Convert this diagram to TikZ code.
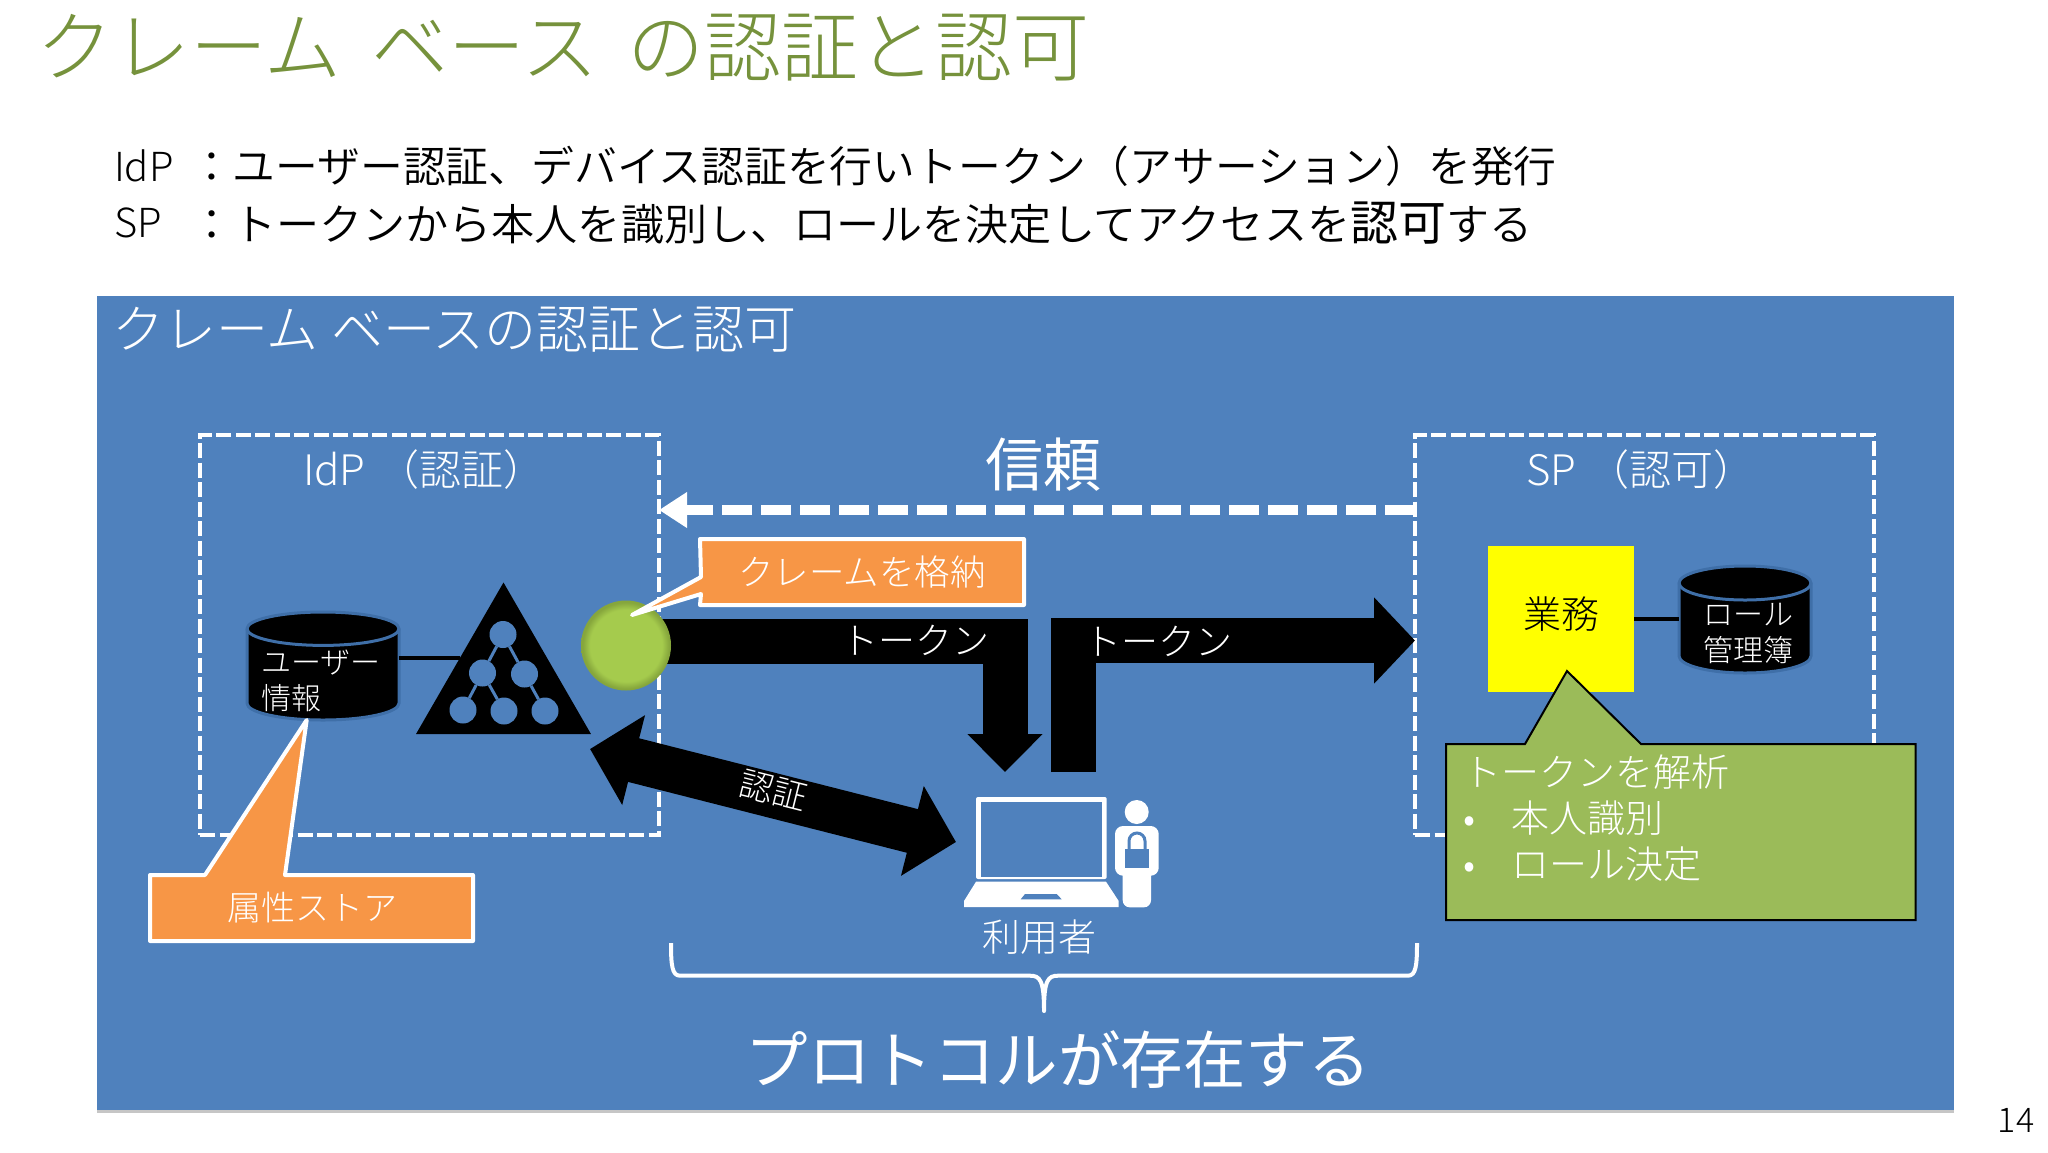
\documentclass[tikz,border=0pt]{standalone}
\usepackage{fontspec}
\setmainfont{Noto Sans CJK JP Light}
\newfontfamily\regularcjk{Noto Sans CJK JP}
\newfontfamily\bodycjk{Noto Sans CJK JP DemiLight}
\usetikzlibrary{arrows.meta,shapes.geometric,shadows}
\newcommand{\sz}[1]{\fontsize{#1}{#1}\selectfont}
\newcommand{\wordgap}[1]{\spaceskip=#1\relax}
\newcommand{\storedrum}[6]{%
  \node[minimum width=2*#4pt, minimum height=#5pt] (#1) at (#2,#3) {};
  \draw[store] ([yshift=-#6pt]#1.north west) arc[start angle=180,end angle=0,x radius=#4pt,y radius=#6pt]
    -- ([yshift=#6pt]#1.south east) arc[start angle=0,end angle=-180,x radius=#4pt,y radius=#6pt] -- cycle;
  \draw[store rim] ([yshift=-#6pt]#1.north west) arc[start angle=180,end angle=360,x radius=#4pt,y radius=#6pt];
}
\definecolor{slideblue}{HTML}{4F81BD}
\definecolor{calloutorange}{HTML}{F79646}
\definecolor{noteolive}{HTML}{9BBB59}
\definecolor{titleolive}{HTML}{76923C}
\definecolor{dbrim}{HTML}{3F6FA8}
\definecolor{ballcore}{HTML}{A5CB4D}
\definecolor{ballrim}{HTML}{86A63C}
\definecolor{bizyellow}{HTML}{FFFF00}
\pgfdeclareradialshading{claimball}{\pgfpoint{0bp}{0bp}}{color(0bp)=(ballcore); color(20bp)=(ballcore); color(24bp)=(ballrim); color(50bp)=(ballrim)}

\begin{document}
\begin{tikzpicture}[x=1pt,y=-1pt,
    every node/.style = {inner sep=0pt, outer sep=0pt},
    panel/.style      = {fill=slideblue, drop shadow={shadow xshift=0pt,shadow yshift=-3pt,opacity=.45}},
    zone/.style       = {draw=white, line width=4.5pt, dash pattern=on 15pt off 4.5pt, minimum width=459pt, minimum height=400pt},
    zone title/.style = {anchor=west, text=white, font=\sz{42}},
    store/.style      = {fill=black, draw=dbrim, line width=3pt},
    store rim/.style  = {draw=dbrim, line width=3pt},
    store text/.style = {text=white, font=\sz{30}},
    link/.style       = {line width=4pt, black},
    tree node/.style  = {circle, fill=slideblue, minimum size=27pt},
    tree link/.style  = {line width=3pt, slideblue},
    fat arrow/.style  = {line width=45pt, black, line join=miter},
    on arrow/.style   = {text=white, font=\sz{37}},
    callout/.style    = {fill=calloutorange, draw=white, line width=4pt, line join=round},
    callout text/.style = {text=white, font=\sz{35.5}},
  ]
  \useasboundingbox (0,0) rectangle (2048,1152);

  \node[anchor=west, text=titleolive, font=\sz{77}] (title) at (36,48) {\wordgap{29.5pt}クレーム ベース の認証と認可};
  \node[anchor=west, font=\sz{40}] (idplabel) at (114,166) {IdP};
  \node[anchor=west, font=\bodycjk\sz{42.8}] (idpline) at (190,166) {^^^^ff1aユーザー認証、デバイス認証を行いトークン^^^^ff08アサーション^^^^ff09を発行};
  \node[anchor=west, font=\sz{40}] (splabel) at (114,223) {SP};
  \node[anchor=west, font=\bodycjk\sz{43.1}] (spline) at (190,223) {^^^^ff1aトークンから本人を識別し、ロールを決定してアクセスを{\regularcjk\sz{48}認可}する};

  \node[panel, anchor=north west, minimum width=1857pt, minimum height=814pt] (panel) at (97,296) {};
  \node[anchor=west, text=white, font=\sz{52}] (paneltitle) at (112,330) {\wordgap{13pt}クレーム ベースの認証と認可};

  \node[zone] (idp) at (429.5,635) {};
  \node[zone] (sp) at (1644.5,635) {};
  \node[zone title] (idptitle) at (303,470) {IdP\hspace{12pt}^^^^ff08認証^^^^ff09};
  \node[zone title] (sptitle) at (1526,470) {SP\hspace{11pt}^^^^ff08認可^^^^ff09};

  \node[text=white, font=\regularcjk\sz{58}] (trust) at (1043,465) {信頼};
  \draw[white, line width=10pt, dash pattern=on 30pt off 9pt, -{Triangle[length=28pt,width=34pt]}]
    ([yshift=125pt]sp.west) -- ([yshift=125pt]idp.east);

  \storedrum{userdb}{323}{666}{76}{108}{16.7}
  \node[store text, anchor=west, align=left] (usertext) at (261,681) {ユーザー\\[6pt]情報};
  \node[regular polygon, regular polygon sides=3, fill=black, minimum size=202pt] (tree) at (503.5,683.5) {};
  \draw[link] (userdb.east |- tree.side 1) -- (tree.side 1);

  \node[tree node] (t1) at (503,634.5) {};
  \node[tree node] (t2) at (482.5,673) {};
  \node[tree node] (t3) at (524.5,674) {};
  \node[tree node] (t4) at (463,710) {};
  \node[tree node] (t5) at (504,711) {};
  \node[tree node] (t6) at (545,711) {};
  \draw[tree link] (t1) -- (t2) (t1) -- (t3) (t2) -- (t4) (t2) -- (t5) (t3) -- (t6);

  \coordinate (tokenin) at (1005,772);
  \coordinate (tokenout) at (1073.5,772);
  \coordinate (authtree) at (590,749);
  \coordinate (authuser) at (956,842);
  \coordinate (tokenfrom) at (626,641);

  \draw[fat arrow, -{Triangle[length=38pt,width=73pt]}] (tokenfrom) -| (tokenin);
  \draw[fat arrow, -{Triangle[length=41pt,width=84pt]}] (tokenout) |- ([yshift=-5.5pt]sp.west);
  \draw[fat arrow, {Triangle[length=45pt,width=90pt]}-{Triangle[length=45pt,width=90pt]}] (authtree) -- (authuser);
  \node[circle, minimum size=90pt, shading=claimball] (ball) at (626,645.5) {};

  \node[on arrow] (tokenl) at (915,640) {トークン};
  \node[on arrow] (tokenr) at (1158,641) {トークン};
  \node[text=white, font=\sz{34}, rotate=-14] (authlabel) at (773,791) {認証};

  \draw[callout] (700,539) -- (1024,539) -- (1024,605) -- (700,605) -- (701,594) -- (632,615) -- (701,577) -- cycle;
  \node[callout text] (claimnote) at (862,572) {クレームを格納};
  \draw[callout] (150,875) -- (205,875) -- (306.7,720) -- (285,875) -- (473,875) -- (473,941) -- (150,941) -- cycle;
  \node[callout text, font=\sz{34}] (attrnote) at (312,908) {属性ストア};

  \node[fill=bizyellow, minimum width=146pt, minimum height=146pt, font=\sz{38}] (biz) at (1561,619) {\raisebox{-9.6pt}[0pt][0pt]{業務}};
  \storedrum{roledb}{1745}{619.5}{66}{107}{17}
  \node[store text, align=center] (roletext) at (1748,633) {ロール\\[6pt]管理簿};
  \draw[link] (biz.east) -- (biz.east -| roledb.west);

  \draw[fill=noteolive, draw=black, line width=2pt, line join=miter]
    (1446,744) -- (1525,744) -- (1567,671) -- (1641,744) -- (1915.5,744) -- (1915.5,920) -- (1446,920) -- cycle;
  \node[anchor=north west, text=white, font=\sz{38}, align=left] (bizsteps) at (1463,755) {トークンを解析\\[8pt]\makebox[48pt][l]{•}本人識別\\[8pt]\makebox[48pt][l]{•}ロール決定};

  \fill[white, rounded corners=2pt] (976,797) rectangle (1106.7,879);
  \fill[slideblue] (980.7,802) rectangle (1102,876.7);
  \fill[white] (976,881.7) -- (1106,881.7) -- (1118.7,901) -- (1118.7,907) -- (964,907) -- (964,901) -- cycle;
  \fill[slideblue] (1025,894) -- (1056.7,894) -- (1061.7,899.3) -- (1020.7,899.3) -- cycle;
  \fill[white] (1136.7,812) circle (12);
  \fill[white, rounded corners=8pt] (1115,826) rectangle (1158.7,875.7);
  \fill[white, rounded corners=7pt] (1122.7,860) rectangle (1151,907.3);
  \fill[slideblue] (1125.3,849.3) rectangle (1148.7,867.7);
  \draw[slideblue, line width=3pt] (1129,850) -- (1129,841) arc (180:360:8) -- (1145,850);
  \node[text=white, font=\sz{38}] (user) at (1039,937) {利用者};

  \draw[white, line width=4pt, line join=round]
    (671,943) .. controls (671,965) and (672,975.7) .. (680,975.7) -- (1030,975.7)
    .. controls (1040,975.7) and (1044,980) .. (1044,1011)
    .. controls (1044,980) and (1048,975.7) .. (1058,975.7) -- (1408,975.7)
    .. controls (1416,975.7) and (1417,965) .. (1417,943);
  \node[text=white, font=\regularcjk\sz{62.5}] (protocol) at (1058,1060) {プロトコルが存在する};

  \node[font=\sz{34}] (pagenum) at (2016,1120) {14};
\end{tikzpicture}
\end{document}
